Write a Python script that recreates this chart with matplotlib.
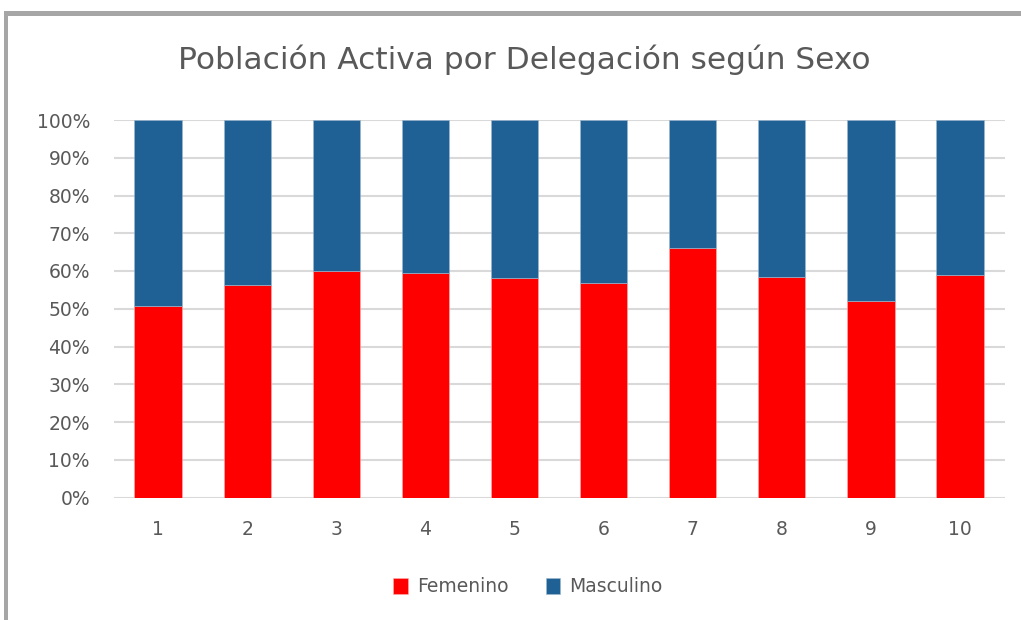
import matplotlib
matplotlib.use("Agg")
import matplotlib.pyplot as plt
from matplotlib.patches import Rectangle
from matplotlib.ticker import PercentFormatter

categories = ["1", "2", "3", "4", "5", "6", "7", "8", "9", "10"]
femenino = [50.8, 56.3, 59.9, 59.5, 58.1, 56.7, 66.0, 58.4, 52.0, 58.9]
masculino = [100 - v for v in femenino]

plt.rcParams['font.family'] = ['DejaVu Sans']

W, H = 1021, 620
fig = plt.figure(figsize=(W / 100, H / 100), dpi=100)
fig.patch.set_facecolor("white")

# frame border (top and left)
fig.add_artist(Rectangle((4 / W, 0), 4 / W, 1 - 11 / H, transform=fig.transFigure,
                         facecolor="#A6A6A6", edgecolor="none"))
fig.add_artist(Rectangle((4 / W, 1 - 16 / H), 1, 5 / H, transform=fig.transFigure,
                         facecolor="#A6A6A6", edgecolor="none"))

ax = fig.add_axes([113.5 / W, 1 - 497.5 / H, (1004.6 - 113.5) / W, (497.5 - 120) / H])

x = list(range(len(categories)))
tot = [f + m for f, m in zip(femenino, masculino)]
fem_pct = [f / t * 100 for f, t in zip(femenino, tot)]
mas_pct = [m / t * 100 for m, t in zip(masculino, tot)]

ax.bar(x, fem_pct, width=0.53, color="#FF0000", label="Femenino", zorder=3,
       edgecolor="#FFB0B0", linewidth=0.4)
ax.bar(x, mas_pct, width=0.53, bottom=fem_pct, color="#1F6095", label="Masculino", zorder=3,
       edgecolor="#9DB8D0", linewidth=0.4)

ax.set_xlim(-0.5, len(categories) - 0.5)
ax.set_ylim(0, 100)
ax.set_yticks(range(0, 101, 10))
ax.yaxis.set_major_formatter(PercentFormatter(decimals=0))
ax.set_xticks(x)
ax.set_xticklabels(categories)
ax.grid(axis="y", color="#D9D9D9", linewidth=1.5, zorder=0)
ax.set_axisbelow(True)
for s in ax.spines.values():
    s.set_visible(False)
ax.tick_params(axis="both", length=0, labelsize=13.5, colors="#595959")
ax.tick_params(axis="y", pad=17)
ax.tick_params(axis="x", pad=16)

fig.text(524 / W, 1 - 60 / H, "Población Activa por Delegación según Sexo",
         ha="center", va="center", fontsize=22.5, color="#595959")

leg = fig.legend(loc="center", bbox_to_anchor=(528 / W, 1 - 587 / H), ncol=2, frameon=False,
                 fontsize=13.5, handlelength=0.75, handleheight=0.9, handletextpad=0.5,
                 columnspacing=2.0)
for t in leg.get_texts():
    t.set_color("#595959")

fig.savefig("out.png", dpi=100, facecolor="white")
